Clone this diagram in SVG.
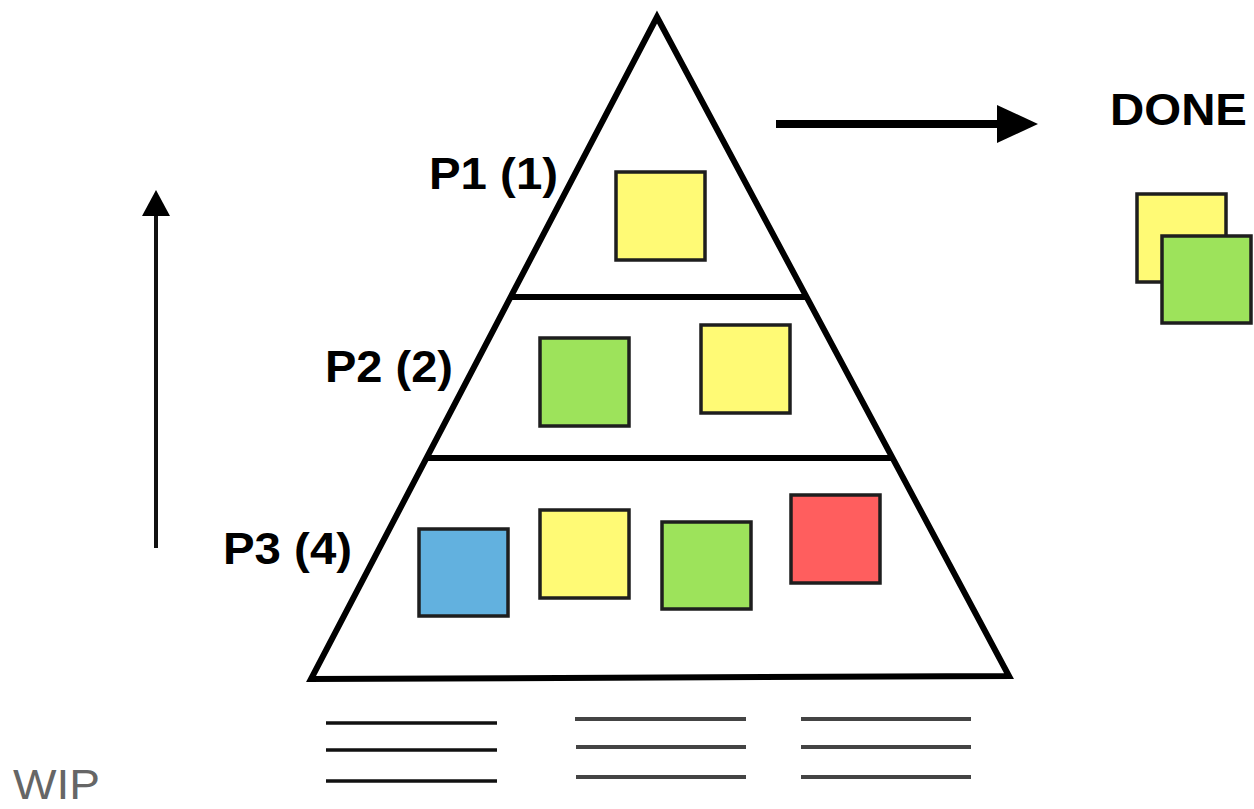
<svg xmlns="http://www.w3.org/2000/svg" width="1254" height="809" viewBox="0 0 1254 809">
<style>
.lbl{font-family:"Liberation Sans",Arial,sans-serif;font-weight:bold;font-size:45px;fill:#000}
.wip{font-family:"Liberation Sans",Arial,sans-serif;font-size:42px;fill:#666}
.card{stroke:#1e1e1e;stroke-width:3.5}
.y{fill:#FFFA75}.g{fill:#9DE35B}.b{fill:#62B1DF}.r{fill:#FF5E5E}
.tl{stroke:#111;stroke-width:3.5}
.tl2{stroke:#444;stroke-width:4}
</style>
<rect width="1254" height="809" fill="#fff"/>
<g id="pyramid">
<polygon points="657,17 311,679 1009,676" fill="#fff" stroke="#000" stroke-width="6" stroke-linejoin="miter"/>
<line x1="510" y1="297" x2="806" y2="297" stroke="#000" stroke-width="6"/>
<line x1="426" y1="458" x2="893" y2="458" stroke="#000" stroke-width="6"/>
</g>
<g id="labels">
<text class="lbl" x="429" y="189" textLength="129" lengthAdjust="spacingAndGlyphs">P1 (1)</text>
<text class="lbl" x="325" y="382" textLength="128" lengthAdjust="spacingAndGlyphs">P2 (2)</text>
<text class="lbl" x="223" y="564" textLength="129" lengthAdjust="spacingAndGlyphs">P3 (4)</text>
<text class="lbl" x="1110" y="125" textLength="137" lengthAdjust="spacingAndGlyphs">DONE</text>
<text class="wip" x="13" y="799" textLength="87" lengthAdjust="spacingAndGlyphs">WIP</text>
</g>
<g id="cards">
<g id="p1-yellow"><rect class="card y" x="616" y="172" width="89" height="88"/></g>
<g id="p2-green"><rect class="card g" x="540" y="338" width="89" height="88"/></g>
<g id="p2-yellow"><rect class="card y" x="701" y="325" width="89" height="88"/></g>
<g id="p3-blue"><rect class="card b" x="419" y="529" width="89" height="87"/></g>
<g id="p3-yellow"><rect class="card y" x="540" y="510" width="89" height="88"/></g>
<g id="p3-green"><rect class="card g" x="662" y="522" width="89" height="87"/></g>
<g id="p3-red"><rect class="card r" x="791" y="495" width="89" height="88"/></g>
<g id="done-yellow"><rect class="card y" x="1137" y="194" width="89" height="88"/></g>
<g id="done-green"><rect class="card g" x="1162" y="236" width="89" height="87"/></g>
</g>
<g id="connectors">
<line x1="156" y1="548" x2="156" y2="216" stroke="#111" stroke-width="4"/>
<path d="M142,216 L156,190 L170,216 Z" fill="#000"/>
<line x1="776" y1="124" x2="998" y2="124" stroke="#000" stroke-width="8"/>
<path d="M997,105 L1038,124 L997,143 Z" fill="#000"/>
</g>
<g id="lists">
<line class="tl" x1="326" y1="723" x2="497" y2="723"/>
<line class="tl" x1="326" y1="750" x2="497" y2="750"/>
<line class="tl" x1="326" y1="781" x2="497" y2="781"/>
<line class="tl2" x1="575" y1="719" x2="746" y2="719"/>
<line class="tl2" x1="576" y1="747" x2="746" y2="747"/>
<line class="tl2" x1="576" y1="777" x2="746" y2="777"/>
<line class="tl2" x1="801" y1="719" x2="971" y2="719"/>
<line class="tl2" x1="801" y1="747" x2="971" y2="747"/>
<line class="tl2" x1="801" y1="777" x2="971" y2="777"/>
</g>
</svg>
